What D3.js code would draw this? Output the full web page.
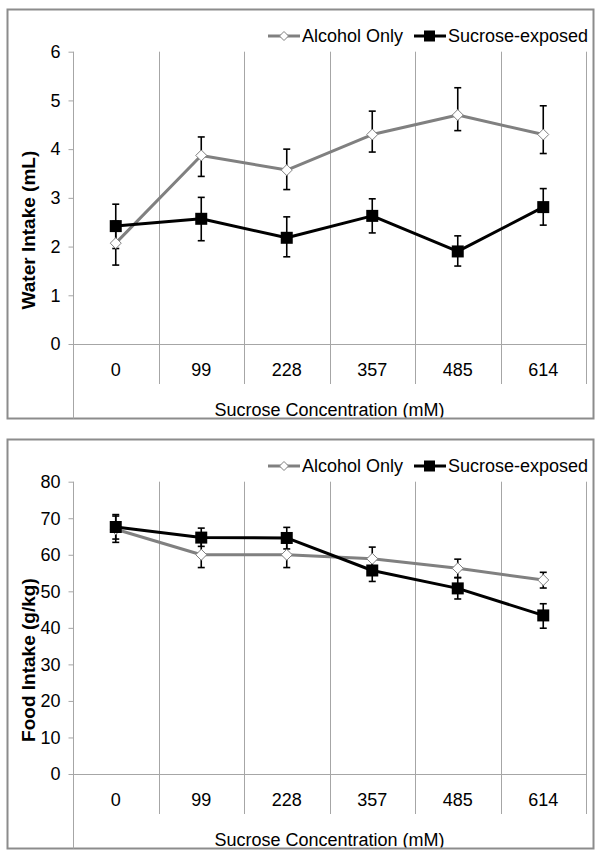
<!DOCTYPE html>
<html>
<head>
<meta charset="utf-8">
<script src="https://cdn.jsdelivr.net/npm/d3@7"></script>
<style>
  html, body { margin: 0; padding: 0; background: #fff; }
  svg { display: block; font-family: "Liberation Sans", Arial, sans-serif; }
</style>
</head>
<body>
<svg id="chart" width="604" height="857"></svg>
<script>
// ---------- data ----------
const categories = ["0", "99", "228", "357", "485", "614"];
const seriesNames = ["Alcohol Only", "Sucrose-exposed"];

// Water intake (mL)
const waterTicks = [0, 1, 2, 3, 4, 5, 6];
const waterAlcohol      = [2.07, 3.87, 3.57, 4.30, 4.70, 4.30];
const waterAlcoholUp    = [0.45, 0.38, 0.43, 0.48, 0.56, 0.59];
const waterAlcoholDown  = [0.45, 0.43, 0.40, 0.36, 0.32, 0.39];
const waterSucrose      = [2.42, 2.57, 2.18, 2.63, 1.90, 2.81];
const waterSucroseUp    = [0.45, 0.44, 0.43, 0.35, 0.32, 0.38];
const waterSucroseDown  = [0.46, 0.45, 0.39, 0.35, 0.30, 0.37];

// Food intake (g/kg)
const foodTicks = [0, 10, 20, 30, 40, 50, 60, 70, 80];
const foodAlcohol       = [67.0, 60.0, 60.0, 58.9, 56.3, 53.1];
const foodAlcoholUp     = [3.6, 3.5, 3.5, 3.2, 2.5, 2.1];
const foodAlcoholDown   = [3.6, 3.5, 3.5, 3.2, 2.5, 2.2];
const foodSucrose       = [67.6, 64.7, 64.6, 55.7, 50.8, 43.4];
const foodSucroseUp     = [3.4, 2.6, 2.9, 3.0, 2.9, 3.2];
const foodSucroseDown   = [3.3, 2.4, 3.0, 3.0, 2.9, 3.5];

const xTitle = "Sucrose Concentration (mM)";

// ---------- drawing ----------
const svg = d3.select("#chart");
const GRID = "#a6a6a6";
const GRAY = "#808080";
const FONT = 18;

function drawPanel(offsetY, yTitle, ticks, alc, alcUp, alcDown, suc, sucUp, sucDown) {
  const g = svg.append("g").attr("transform", `translate(0,${offsetY})`);
  const plotL = 73, plotR = 586, plotT = 51.7, plotB = 344;
  const boxL = 7.5, boxT = 9.5, boxR = 593.5, boxB = 418.5;

  const x = d3.scaleBand().domain(categories).range([plotL, plotR]).padding(0);
  const y = d3.scaleLinear().domain([ticks[0], ticks[ticks.length - 1]]).range([plotB, plotT]);

  // outer border
  g.append("rect")
    .attr("x", boxL).attr("y", boxT)
    .attr("width", boxR - boxL).attr("height", boxB - boxT)
    .attr("fill", "#fff").attr("stroke", "#8c8c8c").attr("stroke-width", 2);

  const clipId = "clip" + offsetY;
  g.append("clipPath").attr("id", clipId)
    .append("rect").attr("x", boxL + 1).attr("y", boxT + 1)
    .attr("width", boxR - boxL - 2).attr("height", boxB - boxT - 2);

  // vertical category separators
  const bounds = categories.map(c => x(c) + x.bandwidth());
  g.selectAll(".vgrid").data(bounds).enter().append("line")
    .attr("x1", d => Math.round(d) + 0.5).attr("x2", d => Math.round(d) + 0.5)
    .attr("y1", plotT).attr("y2", 384)
    .attr("stroke", GRID).attr("stroke-width", 1);

  // y axis line (to bottom of box)
  g.append("line")
    .attr("x1", plotL + 0.5).attr("x2", plotL + 0.5)
    .attr("y1", plotT).attr("y2", boxB)
    .attr("stroke", GRID).attr("stroke-width", 1);

  // y axis ticks + labels
  const yAxis = d3.axisLeft(y).tickValues(ticks).tickSize(5).tickPadding(8).tickFormat(d3.format("d"));
  const ya = g.append("g").attr("transform", `translate(${plotL + 0.5},0)`).call(yAxis);
  ya.select(".domain").remove();
  ya.selectAll(".tick line").attr("stroke", GRID);
  ya.selectAll(".tick text").attr("font-size", FONT).attr("fill", "#000")
    .attr("font-family", "Liberation Sans, Arial, sans-serif");

  // horizontal baseline at 0
  g.append("line")
    .attr("x1", plotL).attr("x2", plotR)
    .attr("y1", Math.round(y(ticks[0])) + 0.5).attr("y2", Math.round(y(ticks[0])) + 0.5)
    .attr("stroke", GRID).attr("stroke-width", 1);

  // x category labels
  const xAxis = d3.axisBottom(x).tickSize(0).tickPadding(0);
  const xa = g.append("g").attr("transform", `translate(0,${plotB})`).call(xAxis);
  xa.select(".domain").remove();
  xa.selectAll(".tick text").attr("font-size", FONT).attr("fill", "#000")
    .attr("dy", null).attr("y", 32)
    .attr("font-family", "Liberation Sans, Arial, sans-serif");

  // axis titles
  g.append("text")
    .attr("transform", `translate(28,${(plotT + boxB) / 2 - 5}) rotate(-90)`)
    .attr("dy", "0.35em")
    .attr("text-anchor", "middle").attr("font-weight", "bold")
    .attr("font-size", 19).attr("fill", "#000")
    .text(yTitle);

  g.append("g").attr("clip-path", `url(#${clipId})`)
    .append("text")
    .attr("x", (plotL + plotR) / 2).attr("y", 416)
    .attr("text-anchor", "middle").attr("font-size", FONT).attr("fill", "#000")
    .text(xTitle);

  const cx = c => x(c) + x.bandwidth() / 2;
  const line = d3.line().x((d, i) => cx(categories[i])).y(d => y(d));

  // lines
  g.append("path").datum(alc).attr("d", line)
    .attr("fill", "none").attr("stroke", GRAY).attr("stroke-width", 3).attr("stroke-linejoin", "round");
  g.append("path").datum(suc).attr("d", line)
    .attr("fill", "none").attr("stroke", "#000").attr("stroke-width", 3).attr("stroke-linejoin", "round");

  // error bars
  function errorBars(vals, up, down) {
    const eb = g.append("g").attr("stroke", "#000").attr("stroke-width", 1.6);
    vals.forEach((v, i) => {
      const xc = cx(categories[i]);
      const yt = y(v + up[i]), yb = y(v - down[i]);
      eb.append("line").attr("x1", xc).attr("x2", xc).attr("y1", yt).attr("y2", yb);
      eb.append("line").attr("x1", xc - 3.5).attr("x2", xc + 3.5).attr("y1", yt).attr("y2", yt);
      eb.append("line").attr("x1", xc - 3.5).attr("x2", xc + 3.5).attr("y1", yb).attr("y2", yb);
    });
  }
  errorBars(alc, alcUp, alcDown);
  errorBars(suc, sucUp, sucDown);

  // markers
  const diamond = (xc, yc, r) => `M${xc},${yc - r}L${xc + r},${yc}L${xc},${yc + r}L${xc - r},${yc}Z`;
  g.selectAll(".dia").data(alc).enter().append("path")
    .attr("d", (d, i) => diamond(cx(categories[i]), y(d), 5.5))
    .attr("fill", "#fff").attr("stroke", GRAY).attr("stroke-width", 1);
  g.selectAll(".sq").data(suc).enter().append("rect")
    .attr("x", (d, i) => cx(categories[i]) - 6).attr("y", d => y(d) - 6)
    .attr("width", 12).attr("height", 12).attr("fill", "#000");

  // legend
  const ly = 36;
  const lg = g.append("g");
  lg.append("line").attr("x1", 268).attr("x2", 300).attr("y1", ly).attr("y2", ly)
    .attr("stroke", GRAY).attr("stroke-width", 3);
  lg.append("path").attr("d", diamond(284, ly, 4.5)).attr("fill", "#fff").attr("stroke", GRAY).attr("stroke-width", 1);
  lg.append("text").attr("x", 302).attr("y", ly).attr("dy", "0.36em")
    .attr("font-size", FONT).attr("fill", "#000").text(seriesNames[0]);
  lg.append("line").attr("x1", 414).attr("x2", 446).attr("y1", ly).attr("y2", ly)
    .attr("stroke", "#000").attr("stroke-width", 3);
  lg.append("rect").attr("x", 424).attr("y", ly - 5.5).attr("width", 11).attr("height", 11).attr("fill", "#000");
  lg.append("text").attr("x", 448).attr("y", ly).attr("dy", "0.36em")
    .attr("font-size", FONT).attr("fill", "#000").text(seriesNames[1]);
}

drawPanel(0, "Water Intake (mL)", waterTicks,
  waterAlcohol, waterAlcoholUp, waterAlcoholDown,
  waterSucrose, waterSucroseUp, waterSucroseDown);
drawPanel(430, "Food Intake (g/kg)", foodTicks,
  foodAlcohol, foodAlcoholUp, foodAlcoholDown,
  foodSucrose, foodSucroseUp, foodSucroseDown);
</script>
</body>
</html>
